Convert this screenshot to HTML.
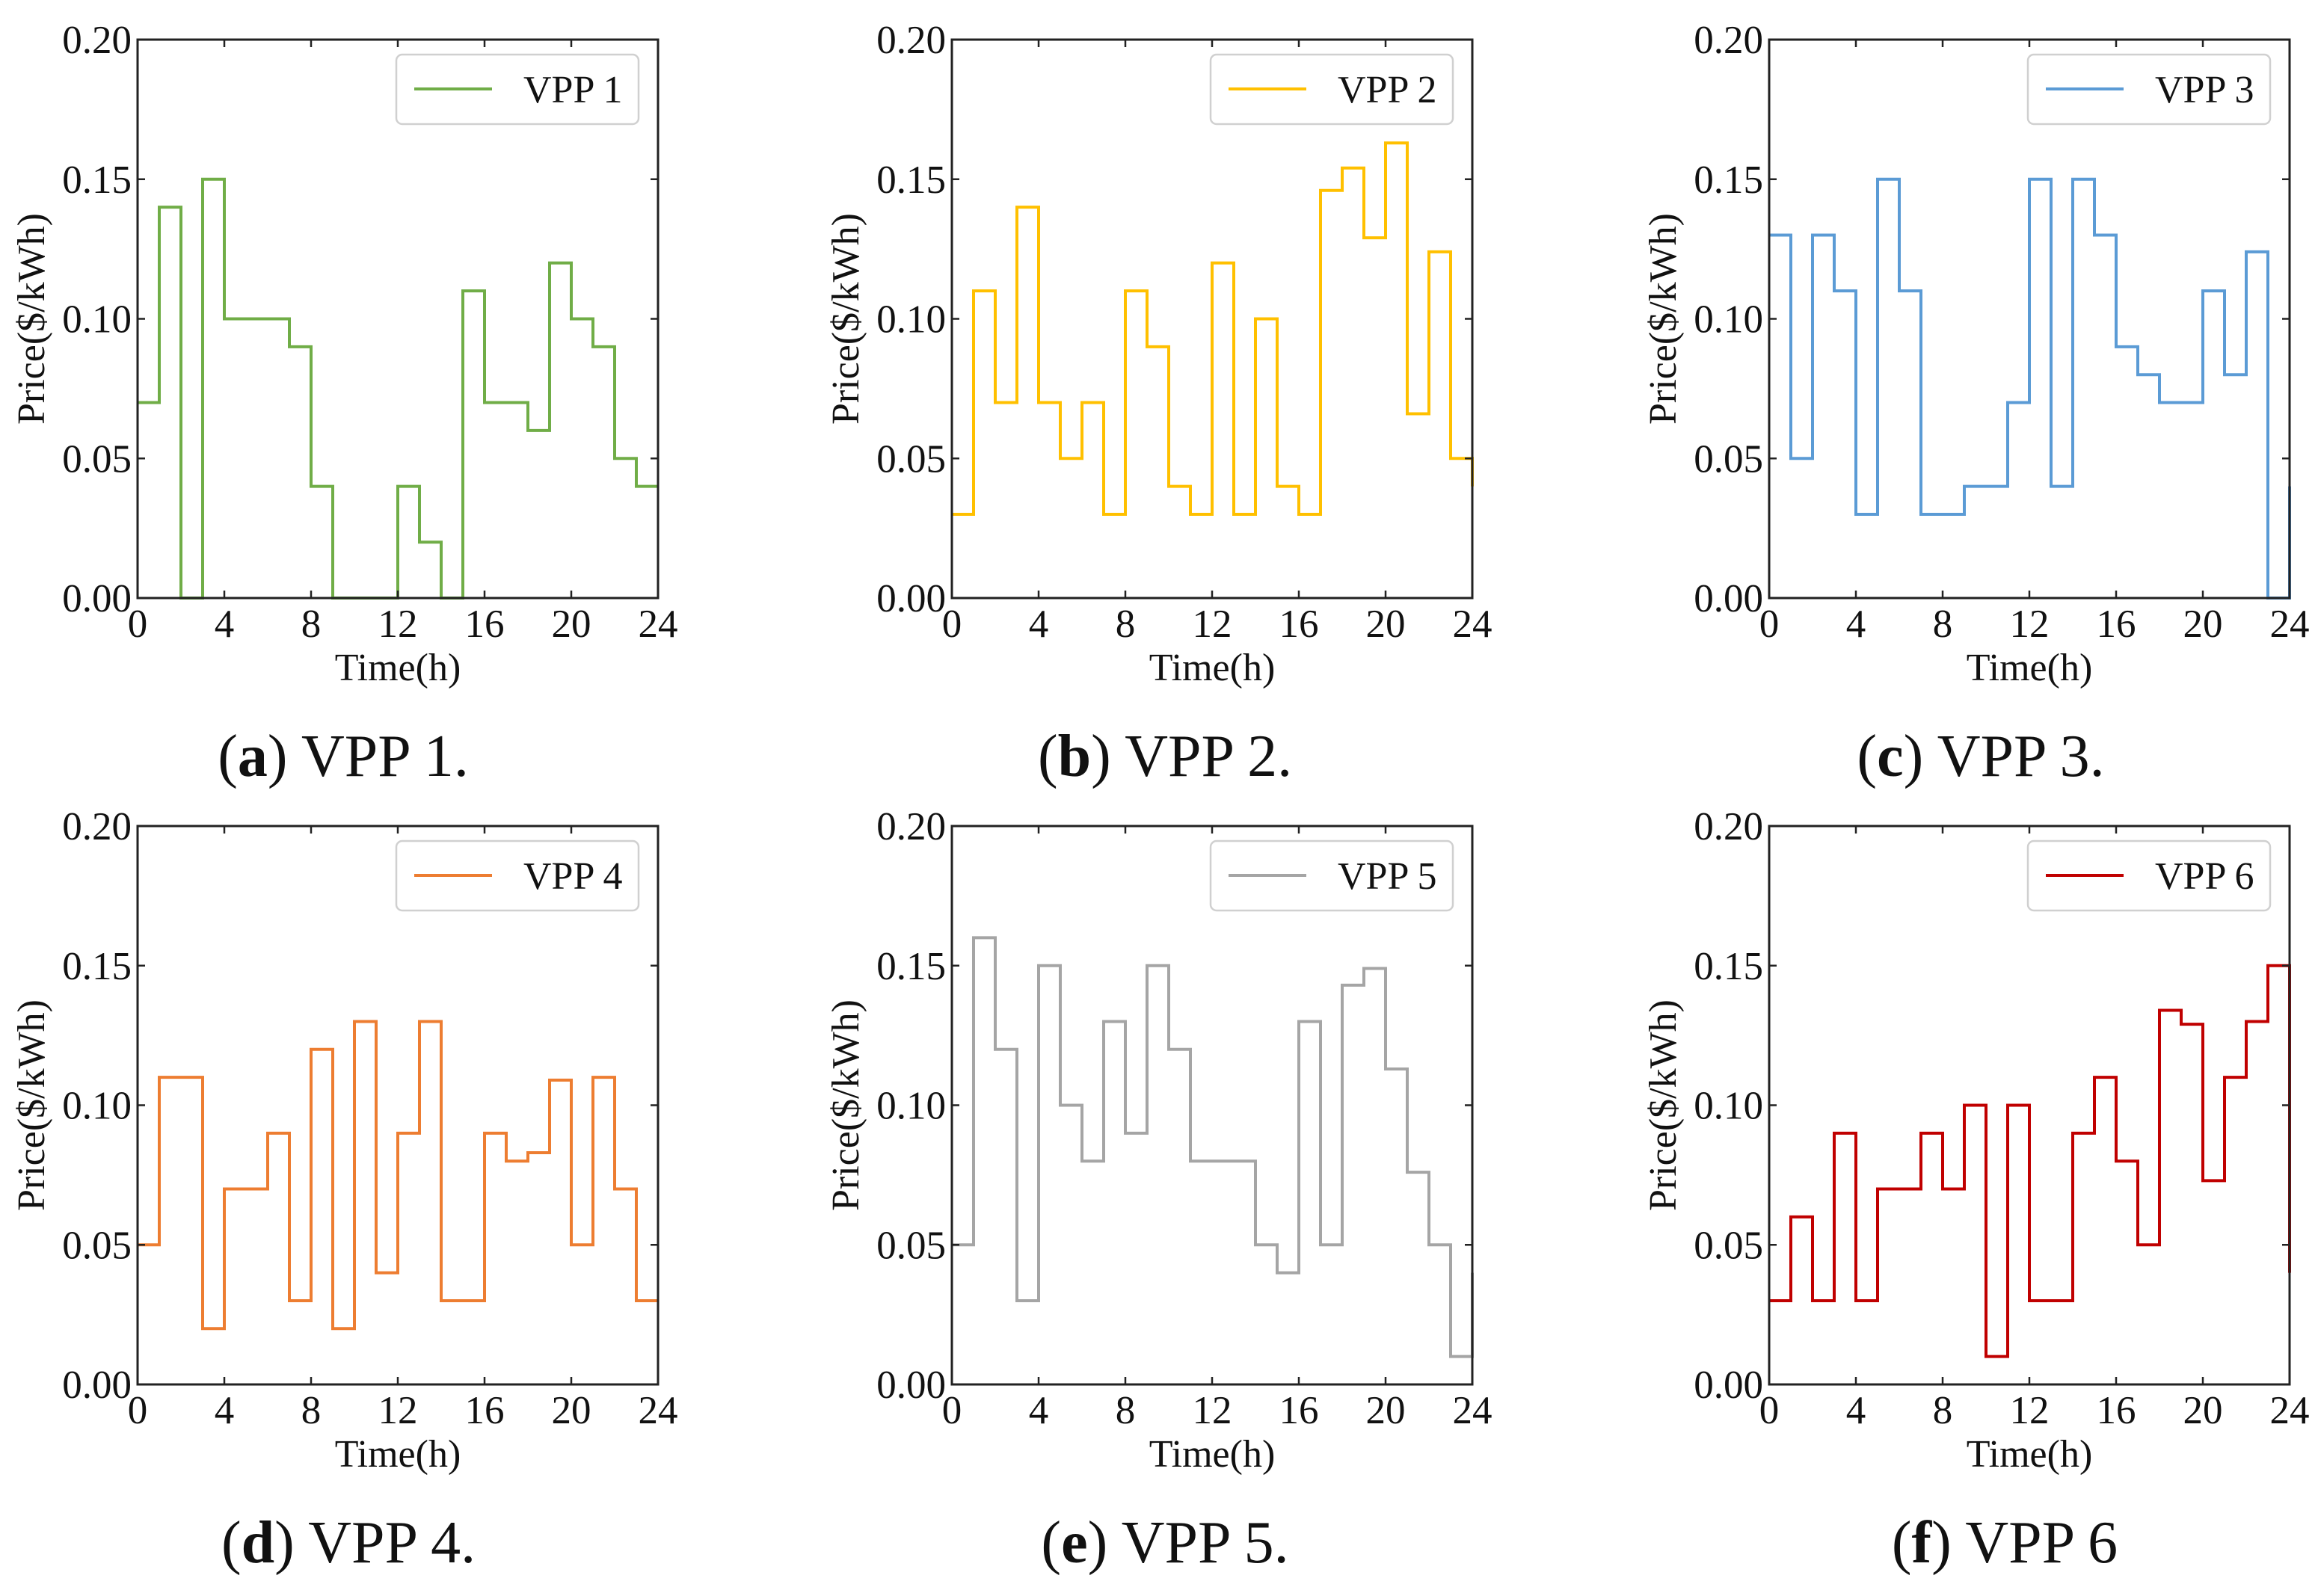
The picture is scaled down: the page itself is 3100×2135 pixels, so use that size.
<!DOCTYPE html>
<html><head><meta charset="utf-8"><style>
html,body{margin:0;padding:0;background:#fff}
svg{display:block}
text{font-family:"Liberation Serif",serif;fill:#111}
</style></head><body>
<svg id="fig" width="3100" height="2135" viewBox="0 0 3100 2135" xmlns="http://www.w3.org/2000/svg"></svg>
<script>
const hours = [0,1,2,3,4,5,6,7,8,9,10,11,12,13,14,15,16,17,18,19,20,21,22,23];
const xTicks = [0,4,8,12,16,20,24];
const yTicks = [0,0.05,0.10,0.15,0.20];
const yTickLabels = ["0.00","0.05","0.10","0.15","0.20"];
const vpp1 = [0.07,0.14,0,0.15,0.10,0.10,0.10,0.09,0.04,0,0,0,0.04,0.02,0,0.11,0.07,0.07,0.06,0.12,0.10,0.09,0.05,0.04];
const vpp2 = [0.03,0.11,0.07,0.14,0.07,0.05,0.07,0.03,0.11,0.09,0.04,0.03,0.12,0.03,0.10,0.04,0.03,0.146,0.154,0.129,0.163,0.066,0.124,0.05];
const vpp3 = [0.13,0.05,0.13,0.11,0.03,0.15,0.11,0.03,0.03,0.04,0.04,0.07,0.15,0.04,0.15,0.13,0.09,0.08,0.07,0.07,0.11,0.08,0.124,0];
const vpp4 = [0.05,0.11,0.11,0.02,0.07,0.07,0.09,0.03,0.12,0.02,0.13,0.04,0.09,0.13,0.03,0.03,0.09,0.08,0.083,0.109,0.05,0.11,0.07,0.03];
const vpp5 = [0.05,0.16,0.12,0.03,0.15,0.10,0.08,0.13,0.09,0.15,0.12,0.08,0.08,0.08,0.05,0.04,0.13,0.05,0.143,0.149,0.113,0.076,0.05,0.01];
const vpp6 = [0.03,0.06,0.03,0.09,0.03,0.07,0.07,0.09,0.07,0.10,0.01,0.10,0.03,0.03,0.09,0.11,0.08,0.05,0.134,0.129,0.073,0.11,0.13,0.15];
const endValues = [null,0.04,0.04,null,0.04,0.04];
const seriesNames = ["VPP 1","VPP 2","VPP 3","VPP 4","VPP 5","VPP 6"];
const captionLetters = ["a","b","c","d","e","f"];
const captionTails = [" VPP 1."," VPP 2."," VPP 3."," VPP 4."," VPP 5."," VPP 6"];

const allSeries=[vpp1,vpp2,vpp3,vpp4,vpp5,vpp6];
const colors=["#70ad47","#ffc000","#5b9bd5","#ed7d31","#a5a5a5","#c00000"];
const panelLeft=[184,1273,2366], panelTop=[53,1105], PW=696, PH=747;
const capX=[[459,1558,2649],[466,1558,2681]];
const NS="http://www.w3.org/2000/svg";
const fig=document.getElementById('fig');
function mk(tag,attrs,parent){const e=document.createElementNS(NS,tag);for(const k in attrs)e.setAttribute(k,attrs[k]);parent.appendChild(e);return e;}

allSeries.forEach((data,i)=>{
  const r=Math.floor(i/3), c=i%3;
  const L=panelLeft[c], T=panelTop[r];
  const xs=v=>L+v/24*PW, ys=v=>T+PH-v/0.2*PH;
  const g=mk('g',{},fig);
  
  
  let d='M'+xs(0)+','+ys(data[0]);
  for(let k=0;k<data.length;k++){
    d+=' L'+xs(hours[k]+1)+','+ys(data[k]);
    if(k+1<data.length) d+=' L'+xs(hours[k]+1)+','+ys(data[k+1]);
  }
  if(endValues[i]!==null) d+=' L'+xs(24)+','+ys(endValues[i]);
  const p=mk('path',{d:d,fill:'none',stroke:colors[i],'stroke-width':4,'stroke-linejoin':'miter'},g);
  
  
  const fr=mk('rect',{x:L,y:T,width:PW,height:PH,fill:'none',stroke:'#222','stroke-width':3},g);
  
  
  xTicks.forEach(t=>{
    const x=xs(t);
    mk('line',{x1:x,x2:x,y1:T+PH,y2:T+PH-10,stroke:'#222','stroke-width':2.5},g);
    mk('line',{x1:x,x2:x,y1:T,y2:T+10,stroke:'#222','stroke-width':2.5},g);
    const tx=mk('text',{x:x,y:T+PH+52,'font-size':53,'text-anchor':'middle'},g);
    tx.textContent=String(t);
    
    
  });
  yTicks.forEach((t,j)=>{
    const y=ys(t);
    mk('line',{x1:L,x2:L+10,y1:y,y2:y,stroke:'#222','stroke-width':2.5},g);
    mk('line',{x1:L+PW,x2:L+PW-10,y1:y,y2:y,stroke:'#222','stroke-width':2.5},g);
    const ty=mk('text',{x:L-8,y:y+18,'font-size':53,'text-anchor':'end'},g);
    ty.textContent=yTickLabels[j];
    
    
  });
  const xt=mk('text',{x:L+PW/2,y:T+PH+110,'font-size':52,'text-anchor':'middle'},g);
  xt.textContent='Time(h)';
  
  
  const yx=L-125, yy=T+PH/2;
  const yt=mk('text',{x:yx,y:yy,'font-size':52,'text-anchor':'middle',transform:'rotate(-90 '+yx+' '+yy+')'},g);
  yt.textContent='Price($/kWh)';
  
  
  const lx=L+PW-26-324, ly=T+20;
  const lg=mk('g',{},g);
  
  
  mk('rect',{x:lx,y:ly,width:324,height:93,rx:8,fill:'#fff',stroke:'#d0d0d0','stroke-width':2.5},lg);
  mk('line',{x1:lx+24,x2:lx+128,y1:ly+46,y2:ly+46,stroke:colors[i],'stroke-width':4},lg);
  const lt=mk('text',{x:lx+170,y:ly+64,'font-size':52},lg);
  lt.textContent=seriesNames[i];
  
  
  const cp=mk('text',{x:capX[r][c],y:T+985,'font-size':80,'text-anchor':'middle'},g);
  
  
  const s1=mk('tspan',{},cp); s1.textContent='(';
  const s2=mk('tspan',{'font-weight':'bold'},cp); s2.textContent=captionLetters[i];
  const s3=mk('tspan',{},cp); s3.textContent=')'+captionTails[i];
});
</script>
</body></html>
